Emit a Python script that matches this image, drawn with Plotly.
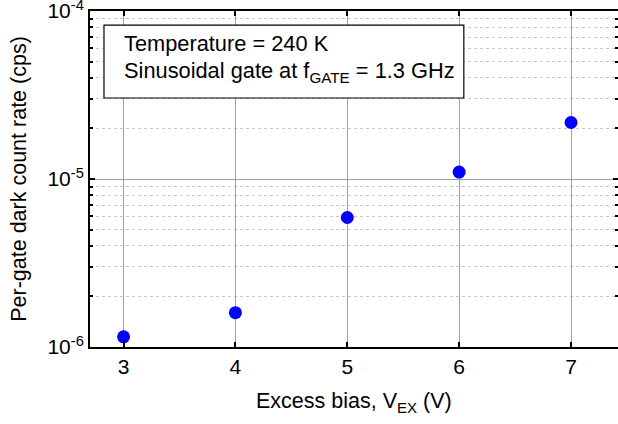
import plotly.graph_objects as go

excess_bias = [3, 4, 5, 6, 7]
dark_count_rate = [1.15e-6, 1.6e-6, 5.9e-6, 1.1e-5, 2.17e-5]
x_ticks = [3, 4, 5, 6, 7]
y_tickvals = [1e-6, 1e-5, 1e-4]
y_ticktext = ["10<sup>-6</sup>", "10<sup>-5</sup>", "10<sup>-4</sup>"]

FONT = "Liberation Sans, Arial, sans-serif"

fig = go.Figure()
fig.add_trace(go.Scatter(
    x=excess_bias, y=dark_count_rate, mode="markers",
    marker=dict(color="#0000FF", size=13, line=dict(width=0)),
    showlegend=False, cliponaxis=False,
))

fig.update_layout(
    width=618, height=424,
    margin=dict(l=90, r=0, t=11, b=77),
    paper_bgcolor="white", plot_bgcolor="white",
    font=dict(family=FONT, size=21, color="black"),
)

fig.update_xaxes(
    range=[2.7, 7.42], tickvals=x_ticks, ticks="inside", ticklen=5,
    tickcolor="black", tickwidth=1.5, automargin=False, ticklabeloverflow="allow",
    showline=True, linecolor="black", linewidth=2, mirror="ticks",
    showgrid=True, gridcolor="#a0a0a0", gridwidth=1, zeroline=False,
    tickfont=dict(size=21),
)

fig.update_yaxes(
    type="log", range=[-6.0001, -3.9999], tickvals=y_tickvals, ticktext=y_ticktext,
    ticks="inside", ticklen=5, tickcolor="black", tickwidth=1.5, automargin=False,
    ticklabeloverflow="allow",
    showline=True, linecolor="black", linewidth=2, mirror="ticks",
    showgrid=True, gridcolor="#a0a0a0", gridwidth=1, zeroline=False,
    tickfont=dict(size=21),
    minor=dict(dtick="D1", ticks="inside", ticklen=3, tickcolor="black",
               showgrid=True, gridcolor="#c8c8c8", griddash="dot", gridwidth=1),
    title=dict(text="Per-gate dark count rate (cps)", font=dict(size=21.5), standoff=15),
)

# x-axis title placed as an annotation for precise position
fig.add_annotation(xref="paper", yref="paper", x=0.5, y=-0.165,
                   xanchor="center", yanchor="middle", showarrow=False,
                   text="Excess bias, V<sub>EX</sub> (V)", font=dict(size=21.5))

fig.add_shape(type="rect", xref="paper", yref="paper",
              x0=0.0265, x1=0.708, y0=0.741, y1=0.958,
              line=dict(color="black", width=1.2), fillcolor="white", layer="above")
fig.add_annotation(xref="paper", yref="paper", x=0.0606, y=0.902,
                   xanchor="left", yanchor="middle", showarrow=False,
                   text="Temperature = 240 K", font=dict(size=21.8))
fig.add_annotation(xref="paper", yref="paper", x=0.0606, y=0.818,
                   xanchor="left", yanchor="middle", showarrow=False,
                   text="Sinusoidal gate at f<sub>GATE</sub> = 1.3 GHz", font=dict(size=21.8))

fig.write_html("out.html", config={"displayModeBar": False})

with open("out.html", "r", encoding="utf-8") as f:
    html = f.read()
html = html.replace("<head>", "<head><style>html,body{margin:0;padding:0;overflow:hidden;}</style>", 1)
with open("out.html", "w", encoding="utf-8") as f:
    f.write(html)
